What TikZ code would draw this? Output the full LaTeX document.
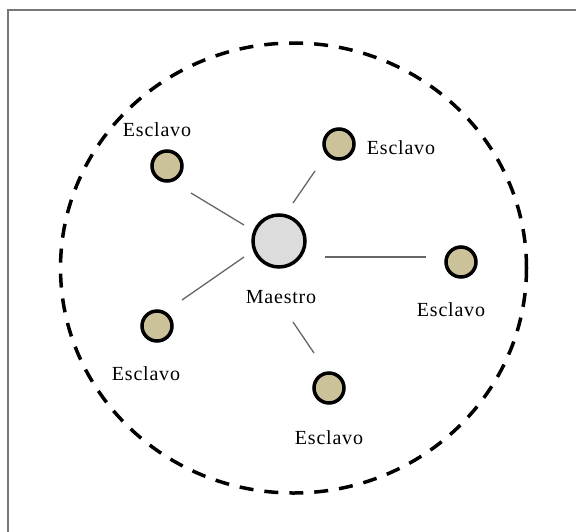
\documentclass[tikz,border=0pt]{standalone}
\usepackage{fontspec}
\setmainfont{Liberation Serif}
\newfontfamily\lblfont[LetterSpace=4]{Liberation Serif}
\definecolor{tan}{RGB}{204,194,154}
\definecolor{master}{RGB}{220,220,220}
\definecolor{framegray}{RGB}{120,120,120}
\begin{document}
\begin{tikzpicture}[x=1pt,y=-1pt,
  slave/.style={circle,draw=black,line width=3.5pt,fill=tan,minimum size=30pt,inner sep=0pt},
  mastern/.style={circle,draw=black,line width=3.5pt,fill=master,minimum size=52pt,inner sep=0pt},
  lbl/.style={font=\lblfont\fontsize{20}{22}\selectfont,inner sep=0pt},
  link/.style={draw=black!60,line width=1.3pt}]
\useasboundingbox (0,0) rectangle (576,531);
\fill[white] (0,0) rectangle (576,531);
\draw[framegray,line width=1.5pt] (8,540) -- (8,10) -- (580,10);
\draw[line width=3.5pt,dash pattern=on 14pt off 11pt] (293.5,268) ellipse [x radius=233, y radius=225];
\node[mastern] (m) at (279,241) {};
\node[slave] (s1) at (167,166) {};
\node[slave] (s2) at (339,144) {};
\node[slave] (s3) at (461,262) {};
\node[slave] (s4) at (157,326) {};
\node[slave] (s5) at (329,388) {};
\node[lbl] (lm) at (281,297) {Maestro};
\node[lbl] (l1) at (157,130) {Esclavo};
\node[lbl] (l2) at (401,148) {Esclavo};
\node[lbl] (l3) at (451,310) {Esclavo};
\node[lbl] (l4) at (146,374) {Esclavo};
\node[lbl] (l5) at (329,438) {Esclavo};
\coordinate (a1) at (191,193); \coordinate (b1) at (244,225);
\coordinate (a2) at (293,203); \coordinate (b2) at (315,171);
\coordinate (a3) at (325,257); \coordinate (b3) at (426,257);
\coordinate (a4) at (244,257); \coordinate (b4) at (182,300);
\coordinate (a5) at (293,322); \coordinate (b5) at (314,353);
\path[link] (a1) -- (b1);
\path[link] (a2) -- (b2);
\path[link] (a3) -- (b3);
\path[link] (a4) -- (b4);
\path[link] (a5) -- (b5);
\end{tikzpicture}
\end{document}
